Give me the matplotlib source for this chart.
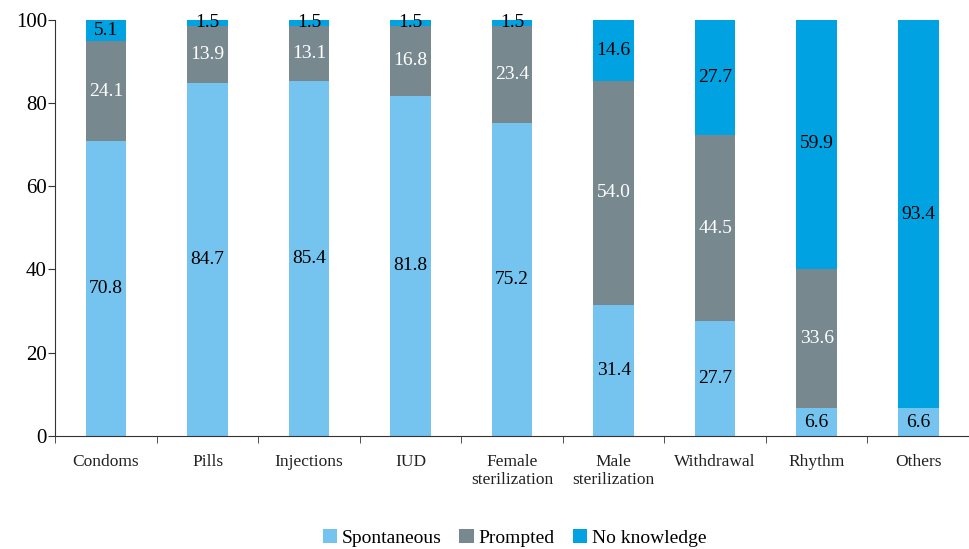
import numpy as np
import matplotlib
matplotlib.use("Agg")
import matplotlib.pyplot as plt

plt.rcParams['font.family'] = ['Liberation Serif', 'DejaVu Serif']

categories = ["Condoms", "Pills", "Injections", "IUD", "Female\nsterilization",
              "Male\nsterilization", "Withdrawal", "Rhythm", "Others"]
spontaneous = [70.8, 84.7, 85.4, 81.8, 75.2, 31.4, 27.7, 6.6, 6.6]
prompted = [24.1, 13.9, 13.1, 16.8, 23.4, 54.0, 44.5, 33.6, 0.0]
no_knowledge = [5.1, 1.5, 1.5, 1.5, 1.5, 14.6, 27.7, 59.9, 93.4]

c_spont = "#75C4EF"
c_prompt = "#78888F"
c_nok = "#00A2E1"

fig = plt.figure(figsize=(9.69, 5.49), dpi=100)
ax = fig.add_axes([0.057, 0.206, 0.943, 0.758])

x = np.arange(len(categories))
w = 0.4
sp = np.array(spontaneous)
pr = np.array(prompted)
nk = np.array(no_knowledge)

b1 = ax.bar(x, sp, w, color=c_spont, label="Spontaneous")
b2 = ax.bar(x, pr, w, bottom=sp, color=c_prompt, label="Prompted")
b3 = ax.bar(x, nk, w, bottom=sp + pr, color=c_nok, label="No knowledge")

for i in range(len(x)):
    if sp[i] > 0:
        ax.text(x[i], sp[i] / 2, "%.1f" % sp[i], ha="center", va="center",
                fontsize=14, color="black")
    if pr[i] > 0:
        ax.text(x[i], sp[i] + pr[i] / 2, "%.1f" % pr[i], ha="center", va="center",
                fontsize=14, color="white")
    if nk[i] > 0:
        ax.text(x[i], sp[i] + pr[i] + nk[i] / 2, "%.1f" % nk[i], ha="center",
                va="center", fontsize=14, color="black")

ax.set_xlim(-0.5, len(categories) - 0.5)
ax.set_ylim(0, 100)
ax.set_yticks([0, 20, 40, 60, 80, 100])
ax.tick_params(axis="y", labelsize=15, length=5, pad=1, direction="out",
               color="#333333")
ax.set_xticks(x)
ax.set_xticklabels(categories, fontsize=12.5, color="#222222")
ax.tick_params(axis="x", length=0, pad=13)
ax.set_xticks(np.arange(len(categories) + 1) - 0.5, minor=True)
ax.tick_params(axis="x", which="minor", length=5, direction="out", color="#333333")

for s in ["top", "right"]:
    ax.spines[s].set_visible(False)
ax.spines["left"].set_color("#333333")
ax.spines["bottom"].set_color("#333333")

fig.legend(handles=[b1, b2, b3], loc="center", bbox_to_anchor=(0.531, 0.02),
           ncol=3, frameon=False,
           prop={"family": ["Liberation Serif", "DejaVu Serif"], "size": 14},
           handlelength=0.75, handleheight=0.75, handletextpad=0.25,
           columnspacing=0.9)

fig.savefig("out.png", dpi=100)
